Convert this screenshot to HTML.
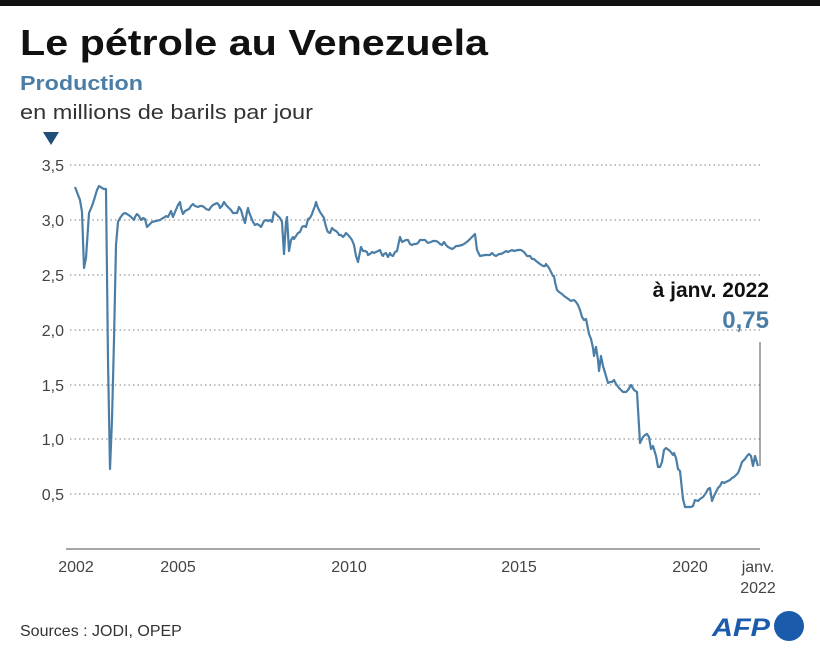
<!DOCTYPE html>
<html><head><meta charset="utf-8"><style>
body{margin:0;background:#fff;}
svg{display:block;font-family:"Liberation Sans",sans-serif;}
</style></head><body>
<svg width="820" height="656" viewBox="0 0 820 656">
<rect x="0" y="0" width="820" height="6" fill="#111"/>
<text x="20" y="55" font-size="36" font-weight="bold" fill="#111" textLength="468" lengthAdjust="spacingAndGlyphs">Le pétrole au Venezuela</text>
<text x="20" y="90" font-size="20" font-weight="bold" fill="#4b7ea6" textLength="123" lengthAdjust="spacingAndGlyphs">Production</text>
<text x="20" y="119" font-size="20" fill="#333" textLength="293" lengthAdjust="spacingAndGlyphs">en millions de barils par jour</text>
<polygon points="43,132 59,132 51,145" fill="#1f4e79"/>
<g stroke="#999" stroke-width="1.3" stroke-dasharray="1.5,3">
<line x1="70" y1="165" x2="760" y2="165"/>
<line x1="70" y1="220" x2="760" y2="220"/>
<line x1="70" y1="275" x2="760" y2="275"/>
<line x1="70" y1="330" x2="760" y2="330"/>
<line x1="70" y1="385" x2="760" y2="385"/>
<line x1="70" y1="439" x2="760" y2="439"/>
<line x1="70" y1="494" x2="760" y2="494"/>
</g>
<line x1="66" y1="549" x2="760" y2="549" stroke="#888" stroke-width="1.5"/>
<g font-size="16" fill="#444" text-anchor="end">
<text x="64" y="171">3,5</text><text x="64" y="226">3,0</text><text x="64" y="281">2,5</text>
<text x="64" y="336">2,0</text><text x="64" y="391">1,5</text><text x="64" y="445">1,0</text>
<text x="64" y="500">0,5</text>
</g>
<g font-size="16" fill="#444" text-anchor="middle">
<text x="76" y="572">2002</text><text x="178" y="572">2005</text><text x="349" y="572">2010</text>
<text x="519" y="572">2015</text><text x="690" y="572">2020</text>
<text x="758" y="572">janv.</text><text x="758" y="593">2022</text>
</g>
<line x1="760" y1="342" x2="760" y2="466" stroke="#555" stroke-width="1"/>
<text x="769" y="297" font-size="21" font-weight="bold" fill="#111" text-anchor="end">à janv. 2022</text>
<text x="769" y="328" font-size="24" font-weight="bold" fill="#4b7ea6" text-anchor="end">0,75</text>
<polyline fill="none" stroke="#4b7ea6" stroke-width="2.2" stroke-linejoin="round" points="75,187 80,200 82,212 84,268 86,258 89,213 92,206 94,200 97,190 99,186 102,188 104,189 106,189 108,360 110,469 112,420 114,340 116,245 118,222 120,218 123,214 125,213 127,214 130,216 132,218 134,220 135,217 137,214 139,216 141,220 143,218 145,219 147,227 150,224 152,222 156,221 160,220 163,218 165,217 166,216 168,217 170,213 171,211 173,217 175,212 178,205 180,202 181,208 183,214 185,211 187,210 189,209 191,206 193,204 195,206 198,207 200,206 202,206 204,207 206,209 209,210 211,207 213,205 215,204 217,203 219,205 220,208 222,206 224,202 226,205 229,208 231,210 233,213 235,213 237,213 239,207 241,210 243,217 245,223 247,212 248,208 249,212 251,217 253,222 255,225 257,224 259,225 261,227 264,221 266,220 268,221 270,220 272,222 274,212 276,214 280,218 282,222 284,254 286,222 287,217 289,251 291,240 293,237 294,239 296,236 298,233 300,232 302,227 304,226 306,227 308,219 310,218 312,214 313,211 315,206 316,202 318,208 320,212 322,215 324,218 325,223 327,230 328,232 330,233 332,228 334,230 336,231 338,233 339,235 341,235 343,237 344,236 346,233 348,235 349,236 352,240 354,245 356,256 358,262 361,247 363,251 365,251 367,252 368,255 370,254 372,252 374,253 376,252 378,251 380,250 382,255 383,256 384,254 386,253 388,257 390,253 391,255 393,256 395,252 397,251 400,237 402,242 404,241 406,240 408,240 410,244 412,245 414,244 416,244 418,243 420,240 425,240 428,243 431,242 433,241 436,241 438,242 440,244 442,245 444,242 446,245 448,247 452,249 454,248 456,246 458,246 462,245 464,244 468,241 470,239 472,237 475,234 477,250 480,256 485,255 490,255 492,253 494,255 496,256 499,254 501,254 503,253 506,251 508,252 512,250 514,251 518,250 521,250 524,252 527,256 530,256 532,259 534,259 536,261 540,264 543,266 545,266 546,264 549,268 551,272 553,276 554,276 555,282 557,290 559,292 562,294 564,296 567,298 571,301 574,300 576,302 578,305 580,310 582,317 584,320 586,319 589,334 591,339 593,348 594,356 596,347 598,360 599,371 601,356 603,366 606,376 608,383 610,382 612,382 614,380 616,384 619,388 623,392 626,392 628,390 631,385 634,390 637,392 640,443 643,437 645,435 647,434 649,437 651,449 653,446 656,456 658,467 660,467 662,462 664,450 666,448 670,451 673,455 674,453 676,458 678,469 680,471 683,499 685,507 691,507 693,506 695,500 698,501 700,499 703,497 706,493 708,489 710,488 712,501 714,496 716,492 718,488 720,486 722,482 724,483 726,482 728,481 730,480 732,478 734,477 736,475 738,473 740,468 742,462 745,459 747,456 749,454 751,456 753,466 755,456 758,466"/>
<text x="20" y="636" font-size="16" fill="#333">Sources : JODI, OPEP</text>
<text x="712" y="636" font-size="25" font-weight="bold" font-style="italic" fill="#1a5bab" textLength="58" lengthAdjust="spacingAndGlyphs">AFP</text>
<circle cx="789" cy="626" r="15" fill="#1a5bab"/>
</svg>
</body></html>
